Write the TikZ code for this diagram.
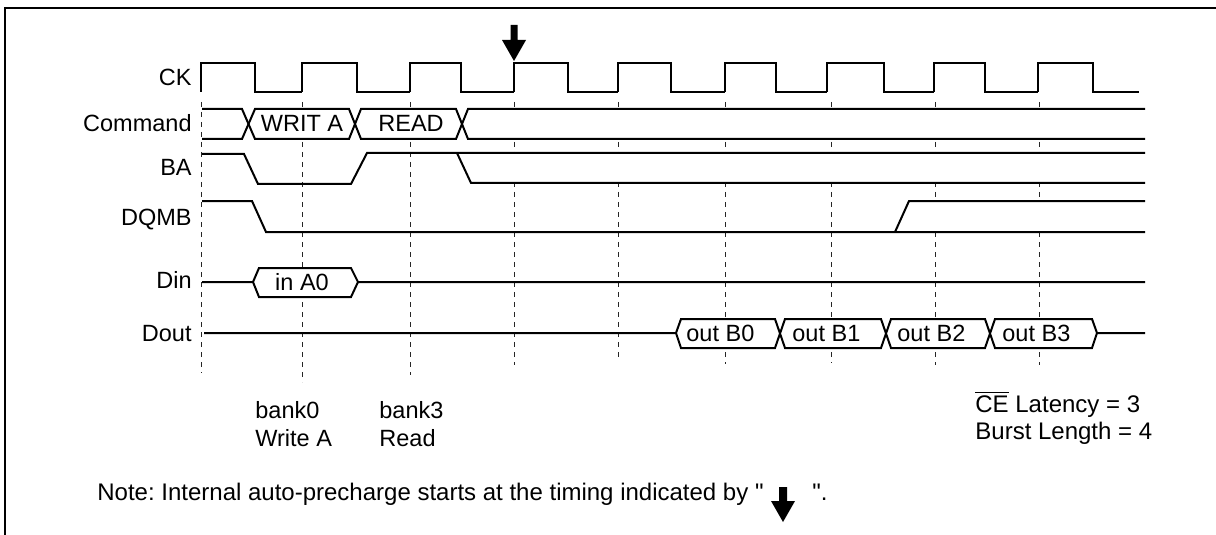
\documentclass[tikz,border=0pt]{standalone}
\usepackage{fontspec}
\setmainfont{Liberation Sans}[Ligatures=TeXOff]
\usepackage{tikz}

\begin{document}
\frenchspacing
\begin{tikzpicture}[
                x=0.5pt, y=-0.5pt,
                every node/.style={font=\fontsize{11.75}{14}\selectfont},
                sig/.style={line width=1pt},
                hide/.style={fill=white},
                grid/.style={line width=0.5pt,dash pattern=on 2.5pt off 2.5pt,black!85},
                frame/.style={line width=0.8pt},
                lbl/.style={anchor=east,inner sep=0pt,text height=0.72em,text depth=0pt},
                bus/.style={inner sep=0pt,text height=0.72em,text depth=0pt},
                remark/.style={anchor=west,inner sep=0pt,text height=0.72em,text depth=0pt},
                note/.style={anchor=base west,inner sep=0pt,font=\fontsize{12}{14}\selectfont},
            ]

            \useasboundingbox (0,0) rectangle (1216,535);

            % Frame
            \draw[frame] (5,535) -- (5,8) -- (1216,8);

            % Clock grid
            \foreach \x/\e in {201/373, 302/382, 410/375, 514/365, 618/360, 725/364, 831/363, 935/365, 1039/365}
                \draw[grid] (\x,102) -- (\x,\e);

            % Signal names
            \node[lbl] (CK)  at (192,78)  {CK};
            \node[lbl] (Cmd) at (192,124) {Command};
            \node[lbl] (BA)  at (192,168) {BA};
            \node[lbl] (DQM) at (192,218) {DQMB};
            \node[lbl] (Din) at (192,281) {Din};
            \node[lbl] (Dou) at (192,334) {Dout};

            % Clock
            \foreach \r/\f/\n in {201/255/302, 302/357/410, 410/461/514, 514/568/618, 618/671/725,
                                  725/776/827, 827/884/934, 934/985/1038, 1038/1093/1139}
                \draw[sig] (\r,92) -- (\r,63) -- (\f,63) -- (\f,92) -- (\n,92);

            % Command
            \fill[hide] (248.5,124) -- (255,109) -- (349,109) -- (355,124) -- (361,109) -- (456,109) -- (462,124)
                        -- (468,109) -- (1145,109) -- (1145,139) -- (468,139) -- (462,124) -- (456,139)
                        -- (361,139) -- (355,124) -- (349,139) -- (255,139) -- cycle;
            \draw[sig] (202,109) -- (242,109) -- (255,139) -- (349,139) -- (361,109) -- (456,109) -- (468,139) -- (1145,139);
            \draw[sig] (202,139) -- (242,139) -- (255,109) -- (349,109) -- (361,139) -- (456,139) -- (468,109) -- (1145,109);
            \node[bus] (WrA) at (302,124) {WRIT A};
            \node[bus] (Rd)  at (411,124) {READ};

            % BA
            \fill[hide] (457,153) -- (471,183) -- (1145,183) -- (1145,153) -- cycle;
            \draw[sig] (202,154) -- (244,154) -- (258,184) -- (351,184) -- (367,153) -- (1145,153);
            \draw[sig] (457,153) -- (471,183) -- (1145,183);

            % DQMB
            \fill[hide] (895,232) -- (909,201) -- (1145,201) -- (1145,232) -- cycle;
            \draw[sig] (202,201) -- (252,201) -- (266,232) -- (1145,232);
            \draw[sig] (895,232) -- (909,201) -- (1145,201);

            % Din
            \fill[hide] (253,282) -- (259,268) -- (351,268) -- (358,282) -- (351,297) -- (259,297) -- cycle;
            \draw[sig] (202,282) -- (253,282) -- (259,268) -- (351,268) -- (358,282) -- (1145,282);
            \draw[sig] (253,282) -- (259,297) -- (351,297) -- (358,282);
            \node[bus] (InA) at (302,283) {in A0};

            % Dout
            \fill[hide] (676,333) -- (681,319) -- (775,319) -- (780,333.5) -- (785,319) -- (881,319) -- (886,333.5)
                        -- (891,319) -- (985,319) -- (990,333.5) -- (995,319) -- (1092,319) -- (1097,333)
                        -- (1092,348) -- (995,348) -- (990,333.5) -- (985,348) -- (891,348) -- (886,333.5)
                        -- (881,348) -- (785,348) -- (780,333.5) -- (775,348) -- (681,348) -- cycle;
            \draw[sig] (204,333) -- (676,333) -- (681,319) -- (775,319) -- (785,348) -- (881,348) -- (891,319)
                       -- (985,319) -- (995,348) -- (1092,348) -- (1097,333) -- (1145,333);
            \draw[sig] (676,333) -- (681,348) -- (775,348) -- (785,319) -- (881,319) -- (891,348)
                       -- (985,348) -- (995,319) -- (1092,319) -- (1097,333);
            \node[bus,anchor=west] (OB0) at (686,334)  {out B0};
            \node[bus,anchor=west] (OB1) at (792,334)  {out B1};
            \node[bus,anchor=west] (OB2) at (897,334)  {out B2};
            \node[bus,anchor=west] (OB3) at (1002,334) {out B3};

            % Precharge marker
            \fill (510.5,25) -- (517.5,25) -- (517.5,40) -- (526,40) -- (514,61) -- (502,40) -- (510.5,40) -- cycle;

            % Remarks
            \node[remark] (b0) at (255,411) {bank0};
            \node[remark] (wa) at (255,439) {Write A};
            \node[remark] (b3) at (379,411) {bank3};
            \node[remark] (rd) at (379,439) {Read};
            \node[remark,font=\fontsize{12}{14}\selectfont] (lat) at (975,405) {\(\overline{\mbox{CE}}\) Latency = 3};
            \node[remark,font=\fontsize{12}{14}\selectfont] (bl)  at (975,432) {Burst Length = 4};

            % Note
            \node[note] (nt) at (97,500) {Note: Internal auto-precharge starts at the timing indicated by "};
            \fill (779,487) -- (787,487) -- (787,501) -- (795,501) -- (783,522) -- (771,501) -- (779,501) -- cycle;
            \node[note] (ne) at (812,500) {".};

            \end{tikzpicture}
\end{document}
